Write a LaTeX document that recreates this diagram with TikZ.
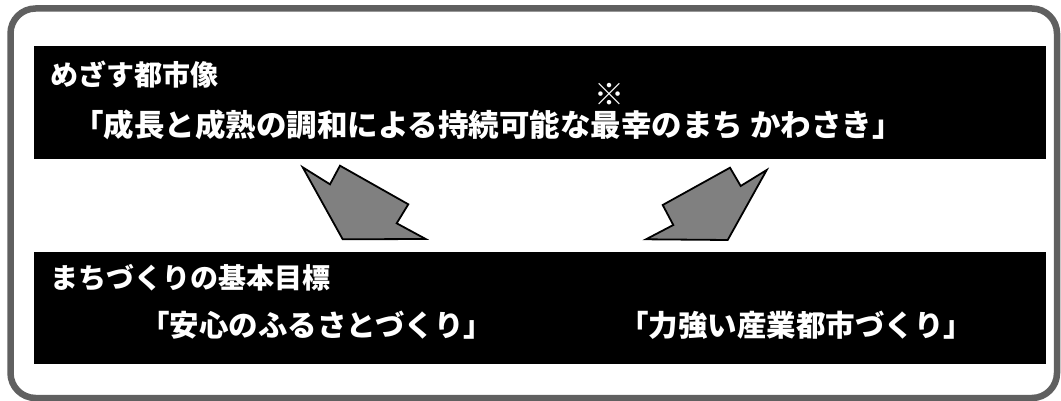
\documentclass[tikz,border=0pt]{standalone}
\usepackage{fontspec}
\newfontfamily\jpfont{Noto Sans CJK JP}
\usetikzlibrary{positioning}
\definecolor{framegray}{HTML}{606060}
\definecolor{arrowgray}{HTML}{808080}
\tikzstyle{frame} = [draw=framegray, line width=6.5pt, rounded corners=25pt]
\tikzstyle{band} = [rectangle, fill=black, inner sep=0pt, minimum width=1012pt, anchor=north west]
\tikzstyle{heading} = [text=white, inner sep=0pt, anchor=west, font=\jpfont\bfseries\fontsize{28}{30}\selectfont]
\tikzstyle{slogan} = [heading, font=\jpfont\bfseries\fontsize{29.5}{31}\selectfont]
\tikzstyle{note} = [text=white, inner sep=0pt, font=\jpfont\fontsize{30}{32}\selectfont]
\tikzstyle{fatarrow} = [draw=black, line width=1.8pt, fill=arrowgray, line join=miter]

\begin{document}
\begin{tikzpicture}[x=1pt, y=-1pt]
		\useasboundingbox (0,0) rectangle (1061,401);
		\draw [frame] (10.5,8.5) rectangle (1057,398);
		\node (vision) [band, minimum height=113pt] at (34,46) {};
		\node (goals) [band, minimum height=112pt] at (34,252) {};

		\node (visiontitle) [heading] at (50,75) {めざす都市像};
		\node (visiontext) [slogan, font=\jpfont\bfseries\fontsize{30.5}{32}\selectfont] at (73,125) {「成長と成熟の調和による持続可能な最幸のまち かわさき」};
		\node (mark) [note] at (609,94) {※};

		\node (goalstitle) [heading] at (50,278) {まちづくりの基本目標};
		\node (goalleft) [slogan] at (140,325) {「安心のふるさとづくり」};
		\node (goalright) [slogan] at (619,325) {「力強い産業都市づくり」};

		\draw [fatarrow] (302.7,167.3) -- (330,184.3) -- (340,165.7) -- (408.3,204.3) -- (396.7,223.3) -- (425.7,239) -- (342.7,239.3) -- cycle;
		\draw [fatarrow] (766.7,170) -- (740.7,186) -- (730,167.7) -- (662.7,205) -- (673.3,225) -- (646,239.3) -- (727.7,240) -- cycle;
\end{tikzpicture}
\end{document}
